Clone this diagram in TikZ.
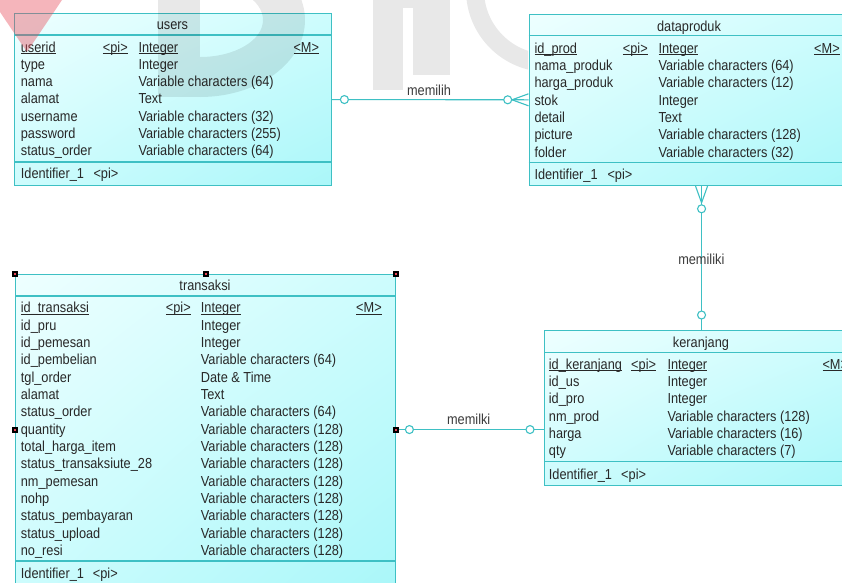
\documentclass[tikz,border=0pt]{standalone}
\usepackage{fontspec}
\setmainfont{Liberation Sans}[FakeStretch=0.88]
\usetikzlibrary{calc,shadings}

\definecolor{edge}{RGB}{62,192,196}
\definecolor{paleA}{RGB}{238,255,255}
\definecolor{paleB}{RGB}{170,247,249}
\definecolor{paleM}{RGB}{205,252,253}
\definecolor{ink}{RGB}{40,40,40}
\definecolor{lblink}{RGB}{60,60,60}
\definecolor{logored}{RGB}{232,70,85}

% underline sitting just under the baseline
\newcommand\ulx[1]{\setbox0\hbox{#1}\rlap{\rule[-1.7pt]{\wd0}{0.8pt}}\box0}

% attribute rows of an entity: prefix, name x, type x, first baseline, list name/type
\newcommand\rowsof[5]{%
  \foreach \n/\t [count=\k] in {#5}{%
    \node[cell] (#1-n\k) at (#2,{#4+17.33*\k}) {\n};
    \node[cell] (#1-t\k) at (#3,{#4+17.33*\k}) {\t};
  }}

\tikzset{
  every node/.style={font=\fontsize{14.5}{17}\selectfont, text=ink},
  entity/.style={draw=edge, line width=1.1pt, inner sep=0pt, anchor=north west,
    upper left=paleA, lower right=paleB, upper right=paleM, lower left=paleM},
  divider/.style={draw=edge, line width=1.1pt},
  cell/.style={anchor=base west, inner sep=0pt},
  title/.style={anchor=base, inner sep=0pt},
  rel/.style={draw=edge, line width=1.1pt},
  ring/.style={draw=edge, line width=1.1pt, fill=white},
  lbl/.style={anchor=base, inner sep=0pt, text=lblink},
  wm/.style={fill=black, fill opacity=0.09},
}

\begin{document}
\begin{tikzpicture}[x=1pt,y=-1pt]
\useasboundingbox (0,0) rectangle (842,582);
\clip (0,0) rectangle (842,582);
\fill[white] (0,0) rectangle (842,582);

% ---------- users ----------
\node[entity, minimum width=317pt, minimum height=172pt] (users) at (14,13) {};
\draw[divider] ($(users.north west)+(0,22)$) -- ($(users.north east)+(0,22)$);
\draw[divider] ($(users.north west)+(0,149)$) -- ($(users.north east)+(0,149)$);
\node[title] (users-h) at (172.5,29.5) {users};
\node[cell] (users-n0) at (20.7,52) {\ulx{userid}};
\node[cell] (users-p0) at (102.7,52) {\ulx{<pi>}};
\node[cell] (users-t0) at (138.3,52) {\ulx{Integer}};
\node[cell] (users-m0) at (293.3,52) {\ulx{<M>}};
\rowsof{users}{20.7}{138.3}{52}{type/Integer, nama/Variable characters (64),
  alamat/Text, username/Variable characters (32), password/Variable characters (255),
  status\_order/Variable characters (64)}
\node[cell] (users-id) at (20.7,178) {Identifier\_1};
\node[cell] (users-idp) at (93.3,178) {<pi>};

% ---------- dataproduk ----------
\node[entity, minimum width=322pt, minimum height=171.5pt] (dataproduk) at (528.5,13.5) {};
\draw[divider] ($(dataproduk.north west)+(0,22.2)$) -- ($(dataproduk.north east)+(0,22.2)$);
\draw[divider] ($(dataproduk.north west)+(0,149.2)$) -- ($(dataproduk.north east)+(0,149.2)$);
\node[title] (dataproduk-h) at (689,31) {dataproduk};
\node[cell] (dataproduk-n0) at (534.3,53.3) {\ulx{id\_prod}};
\node[cell] (dataproduk-p0) at (622.7,53.3) {\ulx{<pi>}};
\node[cell] (dataproduk-t0) at (658.3,53.3) {\ulx{Integer}};
\node[cell] (dataproduk-m0) at (814,53.3) {\ulx{<M>}};
\rowsof{dataproduk}{534.3}{658.3}{53.3}{nama\_produk/Variable characters (64),
  harga\_produk/Variable characters (12), stok/Integer, detail/Text,
  picture/Variable characters (128), folder/Variable characters (32)}
\node[cell] (dataproduk-id) at (534.3,179) {Identifier\_1};
\node[cell] (dataproduk-idp) at (607.3,179) {<pi>};

% ---------- transaksi ----------
\node[entity, minimum width=380pt, minimum height=311pt] (transaksi) at (15,273.5) {};
\draw[divider] ($(transaksi.north west)+(0,22.5)$) -- ($(transaksi.north east)+(0,22.5)$);
\draw[divider] ($(transaksi.north west)+(0,287.5)$) -- ($(transaksi.north east)+(0,287.5)$);
\node[title] (transaksi-h) at (205,290) {transaksi};
\node[cell] (transaksi-n0) at (20.7,312.7) {\ulx{id\_transaksi}};
\node[cell] (transaksi-p0) at (165.7,312.7) {\ulx{<pi>}};
\node[cell] (transaksi-t0) at (200.7,312.7) {\ulx{Integer}};
\node[cell] (transaksi-m0) at (356,312.7) {\ulx{<M>}};
\rowsof{transaksi}{20.7}{200.7}{312.7}{id\_pru/Integer, id\_pemesan/Integer,
  id\_pembelian/Variable characters (64), tgl\_order/Date \& Time, alamat/Text,
  status\_order/Variable characters (64), quantity/Variable characters (128),
  total\_harga\_item/Variable characters (128),
  status\_transaksiute\_28/Variable characters (128),
  nm\_pemesan/Variable characters (128), nohp/Variable characters (128),
  status\_pembayaran/Variable characters (128),
  status\_upload/Variable characters (128), no\_resi/Variable characters (128)}
\node[cell] (transaksi-id) at (20.7,578.3) {Identifier\_1};
\node[cell] (transaksi-idp) at (92.7,578.3) {<pi>};

% ---------- keranjang ----------
\node[entity, minimum width=314pt, minimum height=154.5pt] (keranjang) at (544,330) {};
\draw[divider] ($(keranjang.north west)+(0,22.7)$) -- ($(keranjang.north east)+(0,22.7)$);
\draw[divider] ($(keranjang.north west)+(0,131.7)$) -- ($(keranjang.north east)+(0,131.7)$);
\node[title] (keranjang-h) at (701,347.5) {keranjang};
\node[cell] (keranjang-n0) at (548.7,369.3) {\ulx{id\_keranjang}};
\node[cell] (keranjang-p0) at (631,369.3) {\ulx{<pi>}};
\node[cell] (keranjang-t0) at (667.3,369.3) {\ulx{Integer}};
\node[cell] (keranjang-m0) at (822.3,369.3) {\ulx{<M>}};
\rowsof{keranjang}{548.7}{667.3}{369.3}{id\_us/Integer, id\_pro/Integer,
  nm\_prod/Variable characters (128), harga/Variable characters (16),
  qty/Variable characters (7)}
\node[cell] (keranjang-id) at (548.7,479) {Identifier\_1};
\node[cell] (keranjang-idp) at (621,479) {<pi>};

% ---------- memilih : users -- dataproduk ----------
\draw[rel] (users.east) -- (dataproduk.west);
\coordinate (cf1) at ($(dataproduk.west)+(-16.5,0)$);
\draw[rel] (cf1) -- ($(dataproduk.west)+(0,-6)$) (cf1) -- ($(dataproduk.west)+(0,6)$);
\draw[ring] ($(users.east)+(12.3,0)$) circle[radius=4];
\draw[ring] ($(dataproduk.west)+(-20.8,0)$) circle[radius=4];
\node[lbl] (memilih) at (429,95.7) {memilih};

% ---------- memiliki : dataproduk -- keranjang ----------
\coordinate (top2) at (keranjang.north |- dataproduk.south);
\draw[rel] (top2) -- (keranjang.north);
\coordinate (cf2) at ($(top2)+(0,16.7)$);
\draw[rel] (cf2) -- ($(top2)+(-6,0)$) (cf2) -- ($(top2)+(6,0)$);
\draw[ring] ($(top2)+(0,22.7)$) circle[radius=4];
\draw[ring] ($(keranjang.north)+(0,-15)$) circle[radius=4];
\node[lbl] (memiliki) at (701.3,264) {memiliki};

% ---------- memilki : transaksi -- keranjang ----------
\coordinate (end3) at (transaksi.east -| keranjang.west);
\draw[rel] (transaksi.east) -- (end3);
\draw[ring] ($(transaksi.east)+(13.3,0)$) circle[radius=4];
\draw[ring] ($(end3)+(-14,0)$) circle[radius=4];
\node[lbl] (memilki) at (468.7,424) {memilki};

% selection handles around transaksi
\foreach \p in {north west,north,north east,west,east,south west,south,south east}{
  \fill[black] ($(transaksi.\p)+(-3,-3)$) rectangle +(6,6);
  \fill[logored] ($(transaksi.\p)+(-1,-1)$) rectangle +(2,2);
}

% ---------- faint logo in the background ----------
\fill[logored, fill opacity=0.4] (0,0) -- (62,0) -- (27,52) -- (0,12) -- cycle;
\fill[wm] (158,0) rectangle (200,97);
\begin{scope}
  \clip (200,0) rectangle (330,120);
  \fill[wm, even odd rule] (200,20) ellipse [x radius=105, y radius=77]
                           (200,20) ellipse [x radius=63, y radius=37];
\end{scope}
\fill[wm] (373,0) rectangle (403,90);
\fill[wm] (403,0) rectangle (413,8);
\fill[wm] (413,0) rectangle (450,75);
\begin{scope}
  \clip (455,0) rectangle (528,120);
  \fill[wm, even odd rule] (548,-10) circle[radius=82] (548,-10) circle[radius=64];
\end{scope}
\end{tikzpicture}
\end{document}
